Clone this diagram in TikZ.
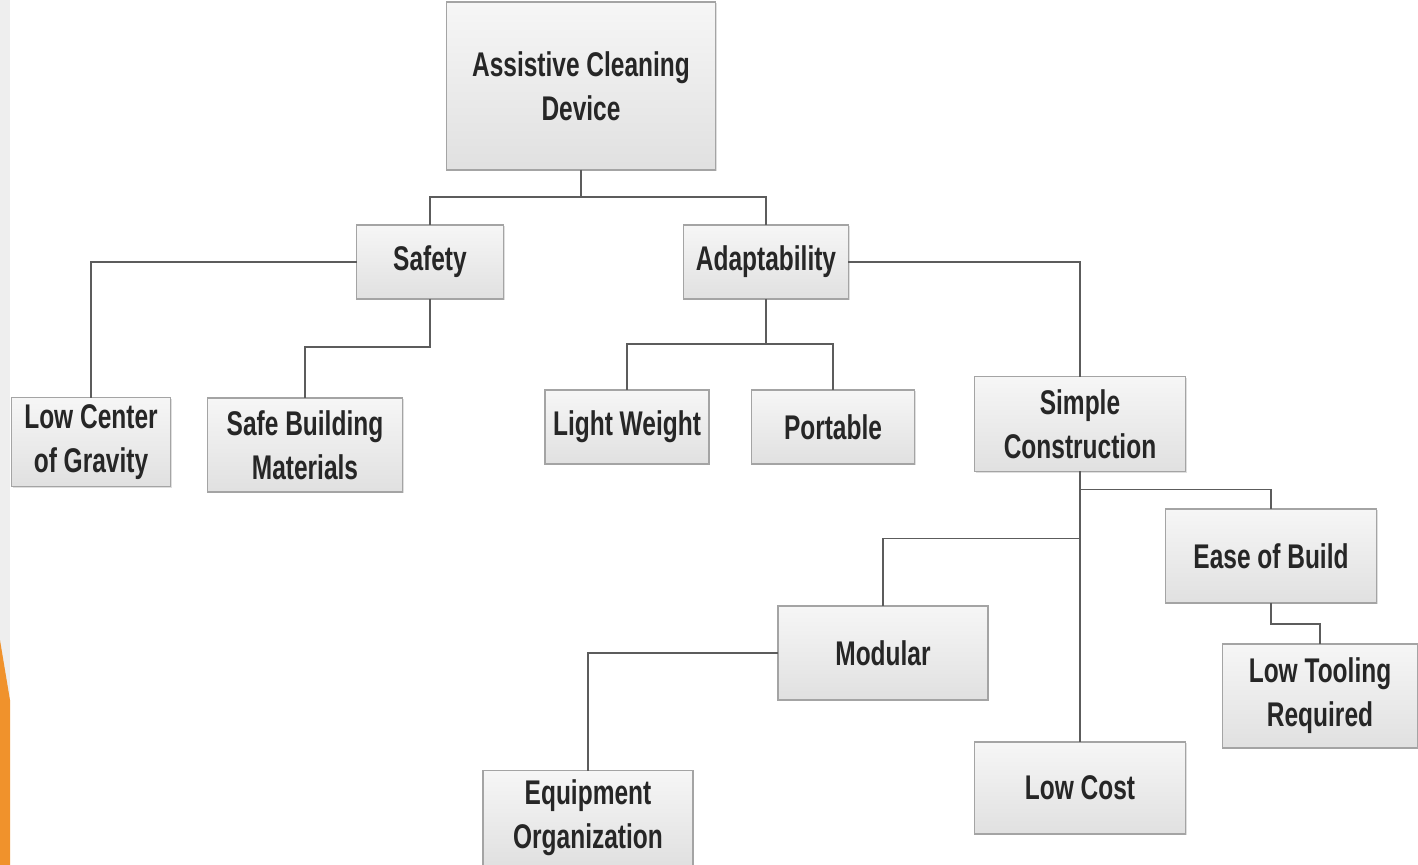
\documentclass[tikz,border=0pt]{standalone}
\usepackage{fontspec}
\newfontfamily\boxfont[FakeStretch=0.715]{Liberation Sans Bold}
\usetikzlibrary{positioning,calc,shadows}
\definecolor{linegray}{HTML}{5C5C5C}
\definecolor{edgegray}{HTML}{A4A4A4}
\definecolor{stripgray}{HTML}{EEEEEE}
\definecolor{accent}{HTML}{F0922C}
\tikzset{
  blk/.style={draw=edgegray, line width=0.6pt, top color=gray!7, bottom color=gray!24,
    inner sep=0pt, outer sep=0pt, align=center, text=black!85,
    font=\boxfont\fontsize{19.5}{25}\selectfont,
    drop shadow={shadow xshift=0.8pt, shadow yshift=-0.8pt, opacity=0.25}},
  link/.style={draw=linegray, line width=1.1pt}
}

\begin{document}
\begin{tikzpicture}[x=0.02cm, y=-0.02cm]
\useasboundingbox (0,0) rectangle (1418,865);
\fill[white] (0,0) rectangle (1418,865);
\fill[stripgray] (0,0) rectangle (10,865);
\fill[accent] (0,640) -- (10,700) -- (10,865) -- (0,865) -- cycle;

\node[blk, minimum width=5.38cm, minimum height=3.36cm] (root) at (581,86) {Assistive Cleaning\\Device};
\node[blk, minimum width=2.94cm, minimum height=1.48cm] (safety) at (430,262) {Safety};
\node[blk, minimum width=3.30cm, minimum height=1.48cm] (adapt) at (766,262) {Adaptability};
\node[blk, minimum width=3.18cm, minimum height=1.78cm] (lowcog) at (91,442) {Low Center\\of Gravity};
\node[blk, minimum width=3.90cm, minimum height=1.88cm] (safemat) at (305,445) {Safe Building\\Materials};
\node[blk, minimum width=3.28cm, minimum height=1.48cm] (light) at (627,427) {Light Weight};
\node[blk, minimum width=3.26cm, minimum height=1.48cm] (portable) at (833,427) {Portable};
\node[blk, minimum width=4.22cm, minimum height=1.90cm] (simple) at (1080,424) {Simple\\Construction};
\node[blk, minimum width=4.22cm, minimum height=1.88cm] (ease) at (1271,556) {Ease of Build};
\node[blk, minimum width=3.92cm, minimum height=2.08cm] (tooling) at (1320,696) {Low Tooling\\Required};
\node[blk, minimum width=4.20cm, minimum height=1.88cm] (modular) at (883,653) {Modular};
\node[blk, minimum width=4.22cm, minimum height=1.84cm] (lowcost) at (1080,788) {Low Cost};
\node[blk, minimum width=4.20cm, minimum height=1.90cm] (equip) at (588,818) {Equipment\\Organization};

\draw[link] (root.south) -- ++(0,27) -| (safety.north);
\draw[link] (root.south) ++(0,27) -| (adapt.north);
\draw[link] (safety.west) -| (lowcog.north);
\draw[link] (safety.south) -- ++(0,48) -| (safemat.north);
\draw[link] (adapt.south) -- ++(0,45) -| (light.north);
\draw[link] (adapt.south) ++(0,45) -| (portable.north);
\draw[link] (adapt.east) -| (simple.north);
\draw[link] (simple.south) -- (lowcost.north);
\draw[link] (simple.south) ++(0,18) -| (ease.north);
\draw[link] (simple.south) ++(0,67) -| (modular.north);
\draw[link] (ease.south) -- ++(0,21) -| (tooling.north);
\draw[link] (modular.west) -| (equip.north);
\end{tikzpicture}
\end{document}
